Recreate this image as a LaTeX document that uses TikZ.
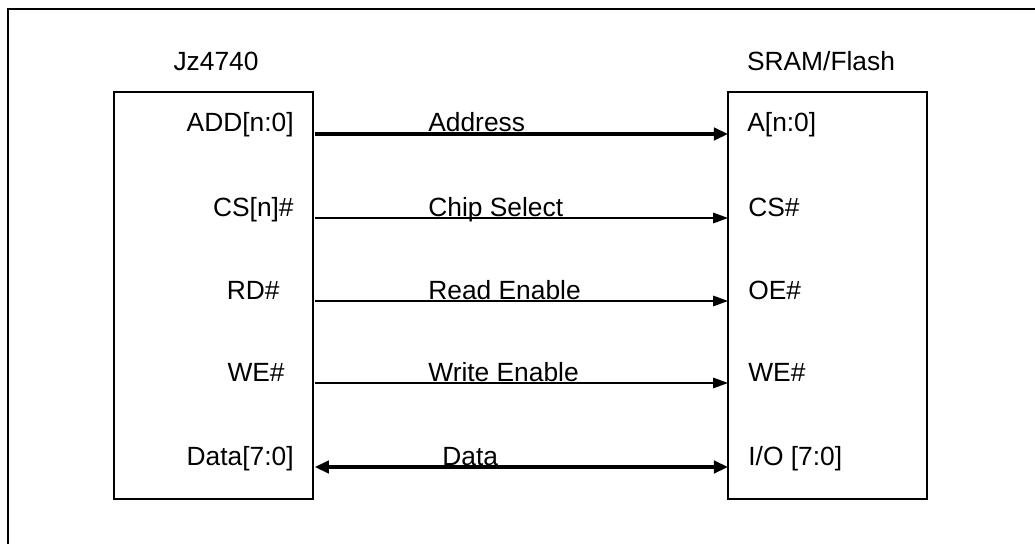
\documentclass[tikz,border=0pt]{standalone}
\usepackage{fontspec}
\setmainfont{Liberation Sans}
\usetikzlibrary{arrows.meta}

\begin{document}
\begin{tikzpicture}[x=0.02cm, y=-0.02cm, every node/.style={inner sep=0pt, font=\fontsize{15}{18}\selectfont}]
\useasboundingbox (0,0) rectangle (1035,544);

\coordinate (FS) at (8,544);
\coordinate (FN) at (8,9);
\coordinate (FE) at (1035,9);
\draw[line width=1.1pt] (FS) -- (FN) -- (FE);

% the two chips
\draw[line width=1.1pt] (114,92) rectangle (313,499);
\draw[line width=1.1pt] (728,92) rectangle (927,499);
\node (cpu) at (216,61) {Jz4740};
\node (mem) at (821,61) {SRAM/Flash};

% rows
\coordinate (A1) at (313,134);
\coordinate (A2) at (313,218);
\coordinate (A3) at (313,301);
\coordinate (A4) at (313,383);
\coordinate (A5) at (313,467);

\coordinate (B1) at (728,134);
\coordinate (B2) at (728,218);
\coordinate (B3) at (728,301);
\coordinate (B4) at (728,383);
\coordinate (B5) at (728,467);

\begin{scope}[every node/.style={inner sep=0pt, anchor=base east, font=\fontsize{15}{18}\selectfont}]
\node (addL) at (294,132) {ADD[n:0]};
\node (csL) at (294,216) {CS[n]\#};
\node (rdL) at (280,299) {RD\#};
\node (weL) at (285,381) {WE\#};
\node (dataL) at (294,465) {Data[7:0]};
\end{scope}

\begin{scope}[every node/.style={inner sep=0pt, anchor=base west, font=\fontsize{15}{18}\selectfont}]
\node (addR) at (747,132) {A[n:0]};
\node (csR) at (748,216) {CS\#};
\node (rdR) at (748,299) {OE\#};
\node (weR) at (748,381) {WE\#};
\node (dataR) at (748,465) {I/O [7:0]};

\node (addS) at (428,132) {Address};
\node (csS) at (428,216) {Chip Select};
\node (rdS) at (428,299) {Read Enable};
\node (weS) at (428,381) {Write Enable};
\node (dataS) at (442,465) {Data};
\end{scope}

\begin{scope}[shorten <=1pt]
\draw[line width=2.8pt, -{Triangle[length=8pt, width=7pt]}] (A1) -- (B1);
\draw[line width=0.85pt, -{Triangle[length=8.5pt, width=6pt]}] (A2) -- (B2);
\draw[line width=0.85pt, -{Triangle[length=8.5pt, width=6pt]}] (A3) -- (B3);
\draw[line width=0.85pt, -{Triangle[length=8.5pt, width=6pt]}] (A4) -- (B4);
\draw[line width=2.8pt, {Triangle[length=8pt, width=7pt]}-{Triangle[length=8pt, width=7pt]}] (A5) -- (B5);
\end{scope}

\end{tikzpicture}
\end{document}
